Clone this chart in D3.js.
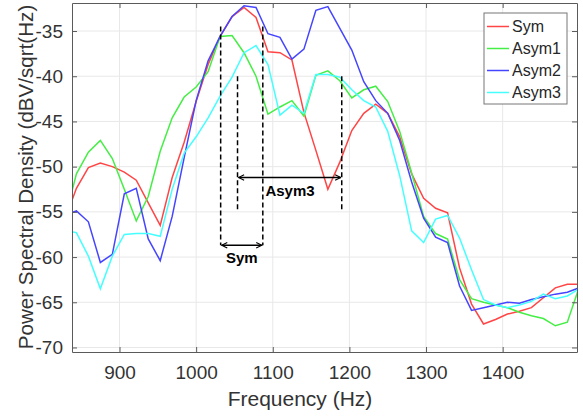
<!DOCTYPE html>
<html>
<head>
<meta charset="utf-8">
<script src="https://cdn.jsdelivr.net/npm/d3@7"></script>
<style>
  body { margin: 0; background: #fff; }
  text { font-family: "Liberation Sans", Arial, sans-serif; }
</style>
</head>
<body>
<svg id="chart" width="583" height="419"></svg>
<script>
(function() {

  // frequency bins (Hz)
  var freqs = [828.125, 843.75, 859.375, 875, 890.625, 906.25, 921.875, 937.5, 953.125, 968.75,
    984.375, 1000, 1015.625, 1031.25, 1046.875, 1062.5, 1078.125, 1093.75, 1109.375, 1125,
    1140.625, 1156.25, 1171.875, 1187.5, 1203.125, 1218.75, 1234.375, 1250, 1265.625, 1281.25,
    1296.875, 1312.5, 1328.125, 1343.75, 1359.375, 1375, 1390.625, 1406.25, 1421.875, 1437.5,
    1453.125, 1468.75, 1484.375, 1500]

  var sym = [-56.0, -52.4, -50.1, -49.6, -50.0, -50.6, -51.5, -54.0, -56.5, -51.2,
    -47.3, -42.8, -38.7, -35.6, -33.4, -32.4, -33.5, -37.3, -37.4, -38.2,
    -44.0, -48.2, -52.5, -49.5, -46.0, -44.1, -43.1, -44.1, -46.7, -50.8,
    -53.5, -54.6, -55.1, -61.2, -65.2, -67.4, -66.9, -66.3, -66.0, -65.6,
    -64.5, -63.4, -63.0, -63.0]

  var asym1 = [-56.0, -50.8, -48.4, -47.1, -49.1, -52.5, -56.0, -53.3, -48.3, -44.6,
    -42.3, -41.2, -39.5, -35.6, -35.5, -37.4, -40.0, -44.2, -43.4, -42.7,
    -44.4, -39.9, -39.4, -40.5, -42.4, -41.5, -41.1, -42.8, -46.1, -50.7,
    -55.5, -57.4, -58.0, -62.5, -64.6, -65.0, -65.3, -65.6, -66.1, -66.5,
    -66.8, -67.6, -67.2, -63.3]

  var asym2 = [-55.4, -54.9, -56.1, -60.6, -59.7, -53.0, -52.4, -58.0, -60.4, -55.5,
    -49.0, -42.7, -38.3, -35.6, -33.4, -32.2, -32.4, -35.3, -35.7, -38.1,
    -37.0, -32.7, -32.3, -34.7, -37.1, -40.6, -42.7, -44.1, -47.1, -51.7,
    -55.7, -57.8, -58.4, -63.2, -65.9, -65.6, -65.3, -65.0, -65.1, -64.7,
    -64.4, -64.1, -63.9, -63.4]

  var asym3 = [-57.0, -57.3, -59.9, -63.5, -59.9, -57.5, -57.4, -57.4, -57.7, -52.5,
    -48.5, -46.7, -44.6, -42.2, -40.1, -37.4, -36.6, -38.7, -44.3, -43.2,
    -44.1, -39.8, -39.8, -40.1, -41.5, -42.7, -43.4, -46.1, -51.0, -57.1,
    -58.4, -55.8, -55.4, -57.9, -61.4, -64.7, -65.3, -65.6, -65.3, -64.9,
    -64.1, -64.6, -64.3, -63.5]

  var seriesNames = ["Sym", "Asym1", "Asym2", "Asym3"]
  var seriesValues = [sym, asym1, asym2, asym3]
  var colors = ["#ff4545", "#45ee45", "#4545ff", "#45ffff"]

  var xTicks = [900, 1000, 1100, 1200, 1300, 1400]
  var yTicks = [-70, -65, -60, -55, -50, -45, -40, -35]

  // annotation markers: [left Hz, right Hz, top dB, arrow dB]
  var symBand = [1032, 1087, -34.5, -58.7]
  var asym3Band = [1054, 1190, -40.0, -51.2]
  var asym3Bottom = -55.0

  var margin = { top: 3, left: 72, right: 6, bottom: 67 }
  var width = 583 - margin.left - margin.right
  var height = 419 - margin.top - margin.bottom

  var svg = d3.select("#chart")
    .append("g")
    .attr("transform", "translate(" + margin.left + "," + margin.top + ")")

  var xPositionScale = d3.scaleLinear()
    .domain([838, 1497])
    .range([0, width])

  var yPositionScale = d3.scaleLinear()
    .domain([-70.5, -31.9])
    .range([height, 0])

  svg.append("defs").append("clipPath")
    .attr("id", "clip")
    .append("rect")
    .attr("width", width)
    .attr("height", height)

  svg.select("defs").append("marker")
    .attr("id", "head")
    .attr("viewBox", "0 0 10 10")
    .attr("refX", 9)
    .attr("refY", 5)
    .attr("markerWidth", 7)
    .attr("markerHeight", 7)
    .attr("markerUnits", "userSpaceOnUse")
    .attr("orient", "auto-start-reverse")
    .append("path")
    .attr("d", "M1,1 L9,5 L1,9")
    .attr("fill", "none")
    .attr("stroke", "#000")
    .attr("stroke-width", 1.6)

  // grid
  svg.append("g")
    .selectAll("line")
    .data(xTicks)
    .enter()
    .append("line")
    .attr("x1", function(d) { return xPositionScale(d) })
    .attr("x2", function(d) { return xPositionScale(d) })
    .attr("y1", 0)
    .attr("y2", height)
    .attr("stroke", "#e8e8e8")

  svg.append("g")
    .selectAll("line")
    .data(yTicks)
    .enter()
    .append("line")
    .attr("y1", function(d) { return yPositionScale(d) })
    .attr("y2", function(d) { return yPositionScale(d) })
    .attr("x1", 0)
    .attr("x2", width)
    .attr("stroke", "#e8e8e8")

  // curves
  var line = d3.line()
    .x(function(d, i) { return xPositionScale(freqs[i]) })
    .y(function(d) { return yPositionScale(d) })

  svg.append("g")
    .attr("clip-path", "url(#clip)")
    .selectAll("path")
    .data(seriesValues)
    .enter()
    .append("path")
    .attr("d", function(d) { return line(d) })
    .attr("fill", "none")
    .attr("stroke", function(d, i) { return colors[i] })
    .attr("stroke-width", 1.5)

  // axes, matlab style box with inward ticks
  var axisColor = "#5a5a5a"

  var xAxis = d3.axisBottom(xPositionScale)
    .tickValues(xTicks)
    .tickFormat(d3.format("d"))
    .tickSizeInner(-5).tickSizeOuter(0).tickPadding(14)
  svg.append("g")
    .attr("class", "axis x-axis")
    .attr("transform", "translate(0," + height + ")")
    .call(xAxis)

  var yAxis = d3.axisLeft(yPositionScale)
    .tickValues(yTicks)
    .tickFormat(function(d) { return String(d) })
    .tickSizeInner(-5).tickSizeOuter(0).tickPadding(9)
  svg.append("g")
    .attr("class", "axis y-axis")
    .call(yAxis)

  svg.append("g")
    .attr("class", "axis")
    .call(d3.axisTop(xPositionScale).tickValues(xTicks).tickSizeInner(-5).tickSizeOuter(0).tickFormat(""))

  svg.append("g")
    .attr("class", "axis")
    .attr("transform", "translate(" + width + ",0)")
    .call(d3.axisRight(yPositionScale).tickValues(yTicks).tickSizeInner(-5).tickSizeOuter(0).tickFormat(""))

  svg.selectAll(".axis path, .axis line").attr("stroke", axisColor)
  svg.selectAll(".axis text")
    .attr("fill", "#333")
    .style("font-family", "Liberation Sans, Arial, sans-serif")
    .style("font-size", "19px")

  // axis labels
  svg.append("text")
    .attr("x", 228)
    .attr("y", height + 54)
    .attr("text-anchor", "middle")
    .attr("fill", "#333")
    .style("font-size", "21px")
    .text("Frequency (Hz)")

  svg.append("text")
    .attr("transform", "translate(-39," + 174 + ") rotate(-90)")
    .attr("text-anchor", "middle")
    .attr("fill", "#333")
    .style("font-size", "20.6px")
    .text("Power Spectral Density (dBV/sqrt(Hz)")

  // annotation lines
  var ann = svg.append("g")
    .attr("stroke", "#000")
    .attr("stroke-width", 1.5)

  ann.append("line")
    .attr("x1", xPositionScale(symBand[0])).attr("x2", xPositionScale(symBand[0]))
    .attr("y1", yPositionScale(symBand[2])).attr("y2", yPositionScale(symBand[3]))
    .attr("stroke-dasharray", "5,3")
  ann.append("line")
    .attr("x1", xPositionScale(symBand[1])).attr("x2", xPositionScale(symBand[1]))
    .attr("y1", yPositionScale(symBand[2])).attr("y2", yPositionScale(symBand[3]))
    .attr("stroke-dasharray", "5,3")
  ann.append("line")
    .attr("x1", xPositionScale(asym3Band[0])).attr("x2", xPositionScale(asym3Band[0]))
    .attr("y1", yPositionScale(asym3Band[2])).attr("y2", yPositionScale(asym3Bottom))
    .attr("stroke-dasharray", "5,3")
  ann.append("line")
    .attr("x1", xPositionScale(asym3Band[1])).attr("x2", xPositionScale(asym3Band[1]))
    .attr("y1", yPositionScale(asym3Band[2])).attr("y2", yPositionScale(asym3Bottom))
    .attr("stroke-dasharray", "5,3")

  ann.append("line")
    .attr("x1", xPositionScale(symBand[0]) + 1).attr("x2", xPositionScale(symBand[1]) - 1)
    .attr("y1", yPositionScale(symBand[3])).attr("y2", yPositionScale(symBand[3]))
    .attr("marker-start", "url(#head)")
    .attr("marker-end", "url(#head)")
  ann.append("line")
    .attr("x1", xPositionScale(asym3Band[0]) + 1).attr("x2", xPositionScale(asym3Band[1]) - 1)
    .attr("y1", yPositionScale(asym3Band[3])).attr("y2", yPositionScale(asym3Band[3]))
    .attr("marker-start", "url(#head)")
    .attr("marker-end", "url(#head)")

  svg.append("text")
    .attr("x", (xPositionScale(symBand[0]) + xPositionScale(symBand[1])) / 2)
    .attr("y", yPositionScale(symBand[3]) + 18)
    .attr("text-anchor", "middle")
    .style("font-size", "15px")
    .style("font-weight", "bold")
    .text("Sym")

  svg.append("text")
    .attr("x", 218)
    .attr("y", yPositionScale(asym3Band[3]) + 18)
    .attr("text-anchor", "middle")
    .style("font-size", "15px")
    .style("font-weight", "bold")
    .text("Asym3")

  // legend
  var legend = svg.append("g")
    .attr("transform", "translate(412,10)")

  legend.append("rect")
    .attr("width", 83)
    .attr("height", 91)
    .attr("fill", "#fff")
    .attr("stroke", "#777")

  var entry = legend.selectAll(".entry")
    .data(seriesNames)
    .enter()
    .append("g")
    .attr("class", "entry")
    .attr("transform", function(d, i) { return "translate(0," + (13.5 + i * 22) + ")" })

  entry.append("line")
    .attr("x1", 3).attr("x2", 25)
    .attr("stroke", function(d, i) { return colors[i] })
    .attr("stroke-width", 1.5)

  entry.append("text")
    .attr("x", 28)
    .attr("dy", "0.35em")
    .attr("fill", "#262626")
    .style("font-size", "16px")
    .text(function(d) { return d })

})()
</script>
</body>
</html>
